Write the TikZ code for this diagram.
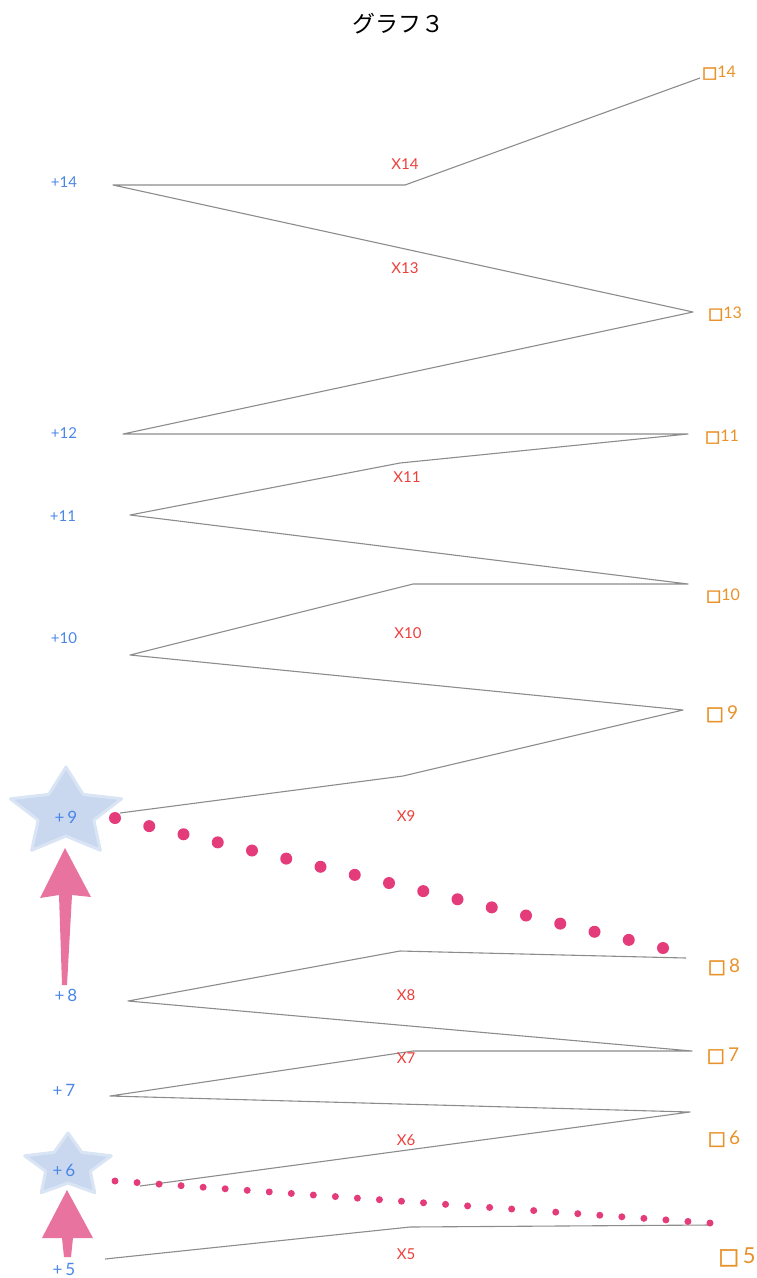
\documentclass[tikz,border=0pt]{standalone}
\usepackage{fontspec}
\setmainfont{Lato}
\newfontfamily\jpfont{Noto Sans CJK JP}
\newfontfamily\symfont[FakeBold=2.5]{DejaVu Sans}
\usetikzlibrary{calc}
\definecolor{linegray}{RGB}{140,140,140}
\definecolor{plusblue}{RGB}{74,134,232}
\definecolor{timesred}{RGB}{238,62,58}
\definecolor{boxorange}{RGB}{232,146,42}
\definecolor{dotpink}{RGB}{228,60,122}
\definecolor{arrowpink}{RGB}{232,115,158}
\definecolor{starblue}{RGB}{201,216,239}

\begin{document}
\begin{tikzpicture}[x=1pt,y=-1pt,
 plus/.style={text=plusblue,inner sep=0pt,font=\fontsize{15}{15}\selectfont},
 plusbig/.style={plus,font=\fontsize{17}{17}\selectfont},
 times/.style={text=timesred,inner sep=0pt,font=\fontsize{15}{15}\selectfont},
 box/.style={text=boxorange,inner sep=0pt,font=\fontsize{16}{16}\selectfont},
 boxbig/.style={box,font=\fontsize{19}{19}\selectfont},
 zig/.style={linegray,line width=1.1pt,line join=round},
 starbg/.style={fill=starblue,draw=starblue!70,line width=3pt,line join=round}]
\useasboundingbox (0,0) rectangle (756,1278);

\node[font=\jpfont\fontsize{23}{23}\selectfont] (title) at (398,24) {グラフ３};

% stars behind the labels
\begin{scope}[shift={(66,813)},xscale=1.27]
 \path[starbg] (90:46pt) \foreach \a/\r in {126/23,162/46,198/23,234/46,270/23,306/46,342/23,18/46,54/23} {-- (\a:\r pt)} -- cycle;
\end{scope}
\begin{scope}[shift={(68,1166)},xscale=1.38]
 \path[starbg] (90:33pt) \foreach \a/\r in {126/17,162/33,198/17,234/33,270/17,306/33,342/17,18/33,54/17} {-- (\a:\r pt)} -- cycle;
\end{scope}

% zigzag corners
\coordinate (a1) at (700,78);  \coordinate (a2) at (405,185); \coordinate (a3) at (113,185);
\coordinate (a4) at (693,312); \coordinate (a5) at (123,434); \coordinate (a6) at (688,434);
\coordinate (a7) at (400,463); \coordinate (a8) at (130,515); \coordinate (a9) at (688,584);
\coordinate (a10) at (413,584); \coordinate (a11) at (130,655); \coordinate (a12) at (683,710);
\coordinate (a13) at (403,776); \coordinate (a14) at (120,813);
\coordinate (b1) at (686,958); \coordinate (b2) at (400,951); \coordinate (b3) at (128,1001);
\coordinate (b4) at (692,1051); \coordinate (b5) at (413,1051); \coordinate (b6) at (110,1096);
\coordinate (b7) at (690,1112); \coordinate (b8) at (140,1186);
\coordinate (c1) at (710,1225); \coordinate (c2) at (410,1227); \coordinate (c3) at (105,1259);

\draw[zig] (a1) -- (a2) -- (a3) -- (a4) -- (a5) -- (a6) -- (a7) -- (a8) -- (a9) -- (a10) -- (a11) -- (a12) -- (a13) -- (a14);
\draw[zig] (b1) -- (b2) -- (b3) -- (b4) -- (b5) -- (b6) -- (b7) -- (b8);
\draw[zig] (c1) -- (c2) -- (c3);

% dotted links
\coordinate (d1) at (115,818); \coordinate (d2) at (663,948);
\coordinate (e1) at (115,1181); \coordinate (e2) at (710,1223);
\foreach \i in {0,...,16} \fill[dotpink] ($(d1)!\i/16!(d2)$) circle (6pt);
\foreach \i in {0,...,27} \fill[dotpink] ($(e1)!\i/27!(e2)$) circle (3.5pt);

% pink arrows
\fill[arrowpink] (62,985) -- (59,895) -- (40,898) -- (65,848) -- (91,897) -- (72,895) -- (67,985) -- cycle;
\fill[arrowpink] (64,1257) -- (62,1238) -- (42,1238) -- (67,1190) -- (93,1238) -- (73,1238) -- (71,1257) -- cycle;

% left labels
\node[plus] (p14) at (64,182) {+14};
\node[plus] (p12) at (64,433) {+12};
\node[plus] (p11) at (63,516) {+11};
\node[plus] (p10) at (64,638) {+10};
\node[plusbig] (p9) at (66,817) {+\,9};
\node[plusbig] (p8) at (66,995) {+\,8};
\node[plusbig] (p7) at (64,1090) {+\,7};
\node[plusbig] (p6) at (64,1170) {+\,6};
\node[plusbig] (p5) at (64,1269) {+\,5};

% middle labels
\node[times] (x14) at (405,164) {X14};
\node[times] (x13) at (405,268) {X13};
\node[times] (x11) at (407,477) {X11};
\node[times] (x10) at (408,633) {X10};
\node[times] (x9) at (406,816) {X9};
\node[times] (x8) at (406,995) {X8};
\node[times] (x7) at (406,1058) {X7};
\node[times] (x6) at (406,1140) {X6};
\node[times] (x5) at (406,1254) {X5};

% right labels
\node[box] (q14) at (719,73) {{\symfont □}14};
\node[box] (q13) at (725,314) {{\symfont □}13};
\node[box] (q11) at (722,437) {{\symfont □}11};
\node[box] (q10) at (723,596) {{\symfont □}10};
\node[boxbig] (q9) at (722,714) {{\symfont □}\,9};
\node[boxbig] (q8) at (724,967) {{\symfont □}\,8};
\node[boxbig] (q7) at (723,1056) {{\symfont □}\,7};
\node[boxbig] (q6) at (724,1139) {{\symfont □}\,6};
\node[boxbig,font=\fontsize{22}{22}\selectfont] (q5) at (737,1257) {{\symfont □}\,5};
\end{tikzpicture}
\end{document}
